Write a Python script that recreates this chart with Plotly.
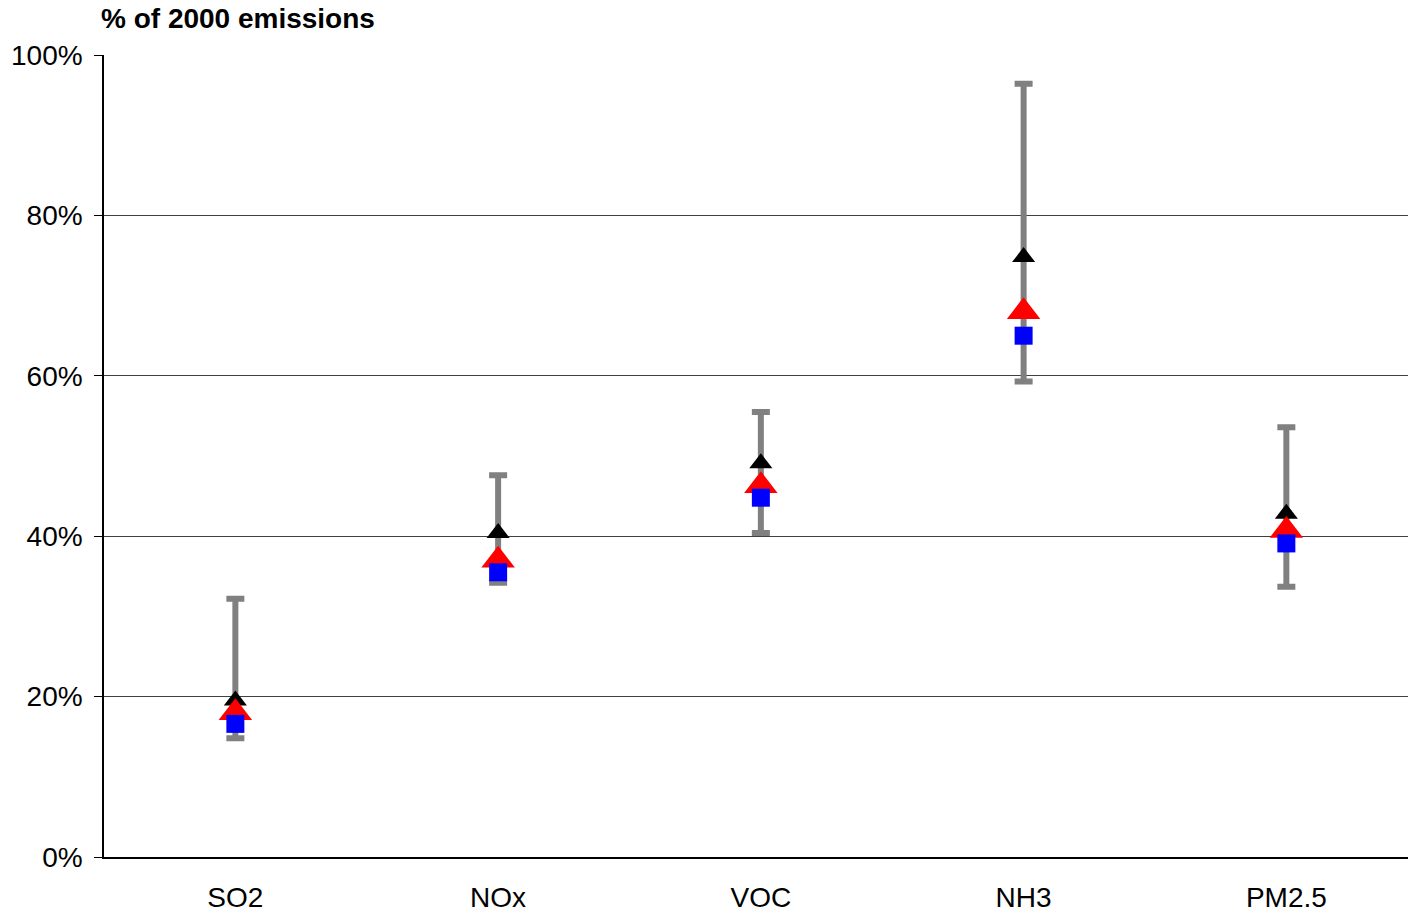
import plotly.graph_objects as go

categories = ["SO2", "NOx", "VOC", "NH3", "PM2.5"]
range_high = [32.2, 47.6, 55.5, 96.4, 53.6]
range_low = [14.8, 34.2, 40.4, 59.3, 33.7]
black_tri = [19.5, 40.4, 49.1, 74.8, 42.8]
red_tri = [18.0, 37.0, 46.3, 68.0, 40.7]
blue_sq = [16.6, 35.5, 44.8, 65.0, 39.1]

FONT = "Liberation Sans, Arial, sans-serif"

fig = go.Figure()

# range bars (low -> high)
fig.add_trace(go.Scatter(
    x=categories, y=range_low, mode="markers",
    marker=dict(size=1, color="rgba(0,0,0,0)"),
    error_y=dict(type="data", symmetric=False,
                 array=[h - l for h, l in zip(range_high, range_low)],
                 arrayminus=[0] * len(range_low),
                 color="#808080", thickness=6, width=9),
    showlegend=False, hoverinfo="skip"))

fig.add_trace(go.Scatter(
    x=categories, y=black_tri, mode="markers",
    marker=dict(symbol="triangle-up", size=20, color="black"),
    showlegend=False))
fig.add_trace(go.Scatter(
    x=categories, y=red_tri, mode="markers",
    marker=dict(symbol="triangle-up", size=29, color="#ff0000"),
    showlegend=False))
fig.add_trace(go.Scatter(
    x=categories, y=blue_sq, mode="markers",
    marker=dict(symbol="square", size=18, color="#0000ff"),
    showlegend=False))

fig.update_layout(
    width=1409, height=913,
    margin=dict(l=104, r=1, t=55, b=56, autoexpand=False),
    paper_bgcolor="white", plot_bgcolor="white",
    font=dict(family=FONT, size=28, color="black"),
    annotations=[dict(text="<b>% of 2000 emissions</b>", xref="paper", yref="paper",
                      x=0, y=1, xanchor="left", yanchor="bottom", yshift=19, xshift=-5,
                      showarrow=False, font=dict(family=FONT, size=28, color="black"))],
)
fig.update_xaxes(type="category", range=[-0.5, 4.463], showgrid=False, automargin=False,
                 showline=True, linecolor="black", linewidth=1.5,
                 ticks="", ticklabelstandoff=15,
                 tickfont=dict(family=FONT, size=28))
fig.update_yaxes(range=[0, 100], tickvals=[0, 20, 40, 60, 80, 100], automargin=False,
                 ticktext=["0%", "20%", "40%", "60%", "80%", "100%"],
                 showgrid=True, gridcolor="#404040", gridwidth=1,
                 showline=True, linecolor="black", linewidth=1.5,
                 ticks="outside", ticklen=8, tickcolor="black", tickwidth=1,
                 ticklabelstandoff=6, zeroline=False,
                 tickfont=dict(family=FONT, size=28))

fig.write_html("out.html", config={"displayModeBar": False},
               post_script="document.body.style.margin='0';document.body.style.overflow='hidden';Plotly.relayout(document.getElementById('{plot_id}'), {width:1409, height:913});")
